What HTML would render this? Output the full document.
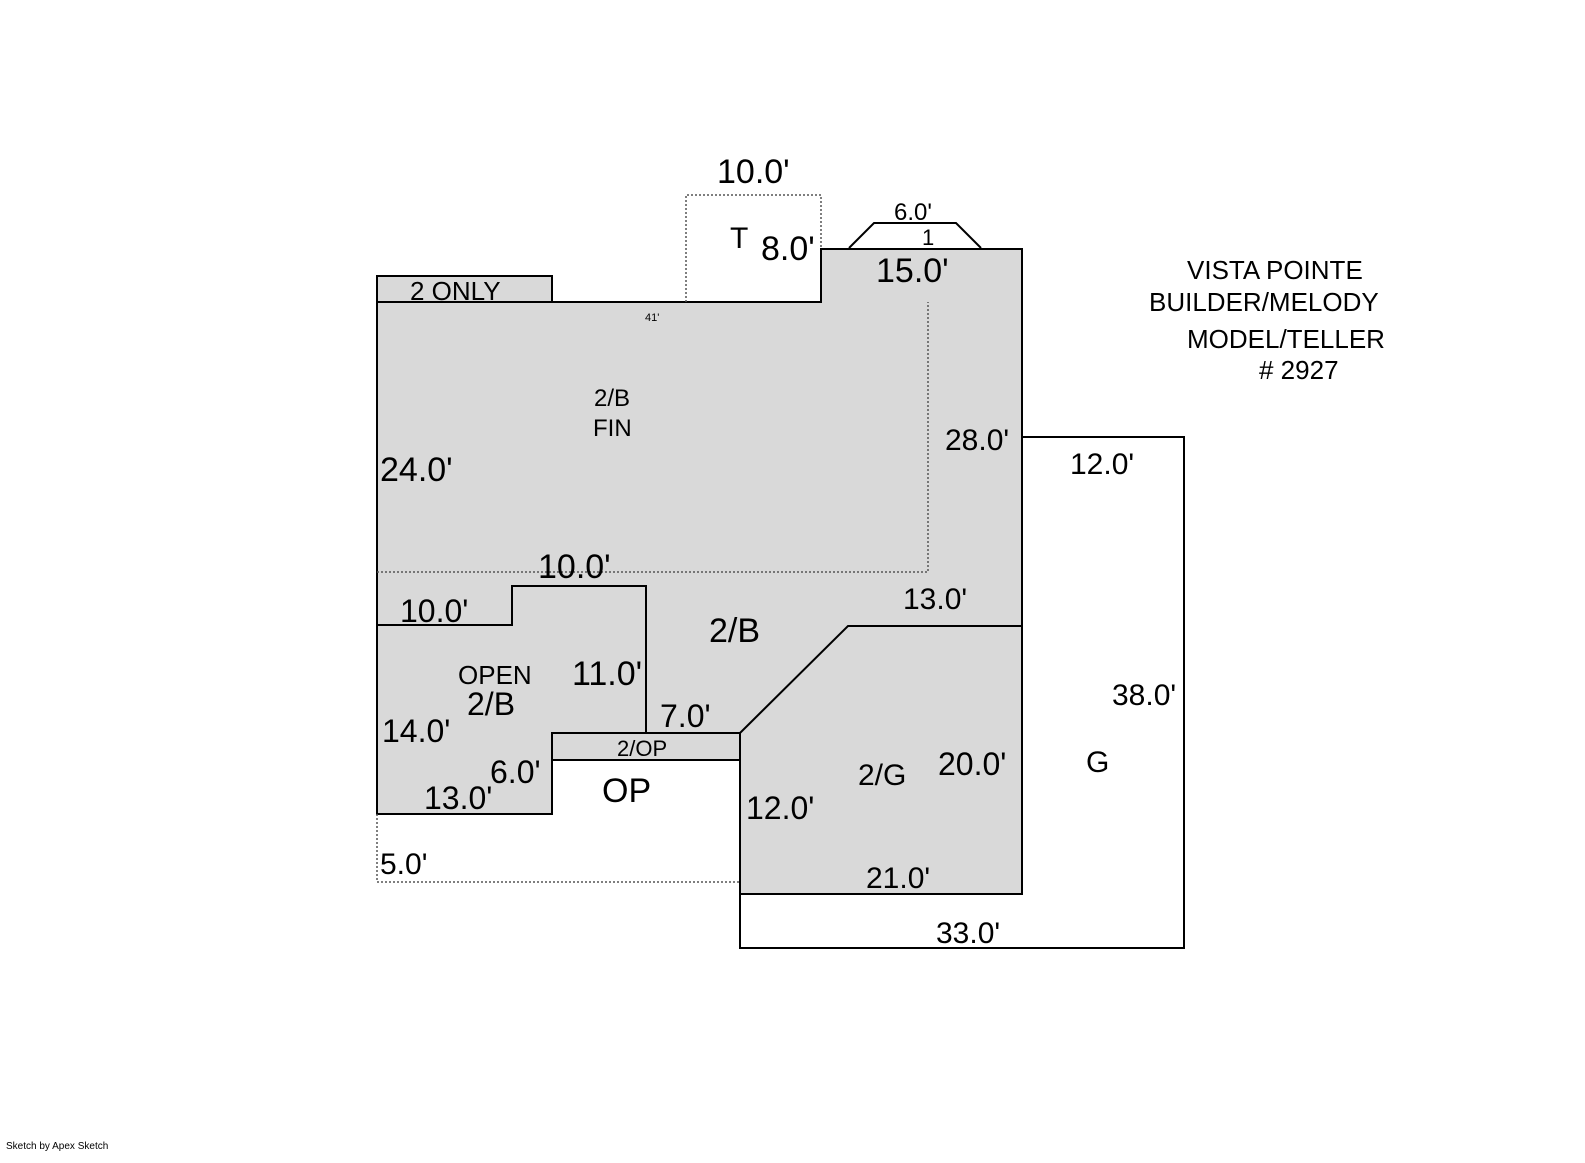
<!DOCTYPE html>
<html><head><meta charset="utf-8"><style>html,body{margin:0;padding:0;background:#fff}svg{display:block}text{font-family:"Liberation Sans",Arial,sans-serif;fill:#000}</style></head>
<body>
<svg width="1585" height="1163" viewBox="0 0 1585 1163" xmlns="http://www.w3.org/2000/svg">
<rect width="1585" height="1163" fill="#fff"/>
<g stroke="#000" stroke-width="2" fill="none">
<polygon points="377,302 821,302 821,249 1022,249 1022,894 740,894 740,733 552,733 552,814 377,814" fill="#d9d9d9"/>
<rect x="552" y="733" width="188" height="27" fill="#d9d9d9"/>
<rect x="377" y="276" width="175" height="26" fill="#d9d9d9"/>
<polyline points="377,625 512,625 512,586 646,586 646,733"/>
<polyline points="740,733 848,626 1022,626"/>
<polyline points="1022,437 1184,437 1184,948 740,948 740,894"/>
<polyline points="849,248 874,223 956,223 981,248"/>
</g>
<g stroke="#555" stroke-width="1.5" stroke-dasharray="2,2" fill="none">
<polyline points="377,572 928,572 928,302"/>
<polyline points="686,302 686,195 821,195 821,249"/>
<polyline points="377,814 377,882 740,882"/>
</g>
<g font-size="32">
<text x="717" y="183" font-size="34">10.0'</text>
<text x="730" y="248" font-size="30">T</text>
<text x="761" y="260" font-size="34">8.0'</text>
<text x="894" y="220" font-size="24">6.0'</text>
<text x="922" y="245" font-size="22">1</text>
<text x="876" y="282" font-size="34">15.0'</text>
<text x="410" y="300" font-size="26">2 ONLY</text>
<text x="645" y="321" font-size="11">41'</text>
<text x="594" y="406" font-size="24">2/B</text>
<text x="593" y="436" font-size="24">FIN</text>
<text x="380" y="481" font-size="34">24.0'</text>
<text x="945" y="450" font-size="30">28.0'</text>
<text x="1070" y="474" font-size="30">12.0'</text>
<text x="538" y="578" font-size="34">10.0'</text>
<text x="400" y="622" font-size="32">10.0'</text>
<text x="903" y="609" font-size="30">13.0'</text>
<text x="709" y="642" font-size="34">2/B</text>
<text x="458" y="684" font-size="26">OPEN</text>
<text x="467" y="715" font-size="32">2/B</text>
<text x="572" y="685" font-size="34">11.0'</text>
<text x="660" y="727" font-size="32">7.0'</text>
<text x="382" y="742" font-size="32">14.0'</text>
<text x="617" y="756" font-size="22">2/OP</text>
<text x="490" y="783" font-size="32">6.0'</text>
<text x="424" y="809" font-size="32">13.0'</text>
<text x="602" y="802" font-size="34">OP</text>
<text x="746" y="819" font-size="32">12.0'</text>
<text x="858" y="785" font-size="30">2/G</text>
<text x="938" y="775" font-size="32">20.0'</text>
<text x="1086" y="772" font-size="30">G</text>
<text x="1112" y="705" font-size="30">38.0'</text>
<text x="866" y="888" font-size="30">21.0'</text>
<text x="380" y="874" font-size="30">5.0'</text>
<text x="936" y="943" font-size="30">33.0'</text>
<text x="1187" y="279" font-size="26">VISTA POINTE</text>
<text x="1149" y="311" font-size="26">BUILDER/MELODY</text>
<text x="1187" y="348" font-size="26">MODEL/TELLER</text>
<text x="1259" y="379" font-size="26"># 2927</text>
<text x="6" y="1149" font-size="10">Sketch by Apex Sketch</text>
</g>
</svg>
</body></html>
